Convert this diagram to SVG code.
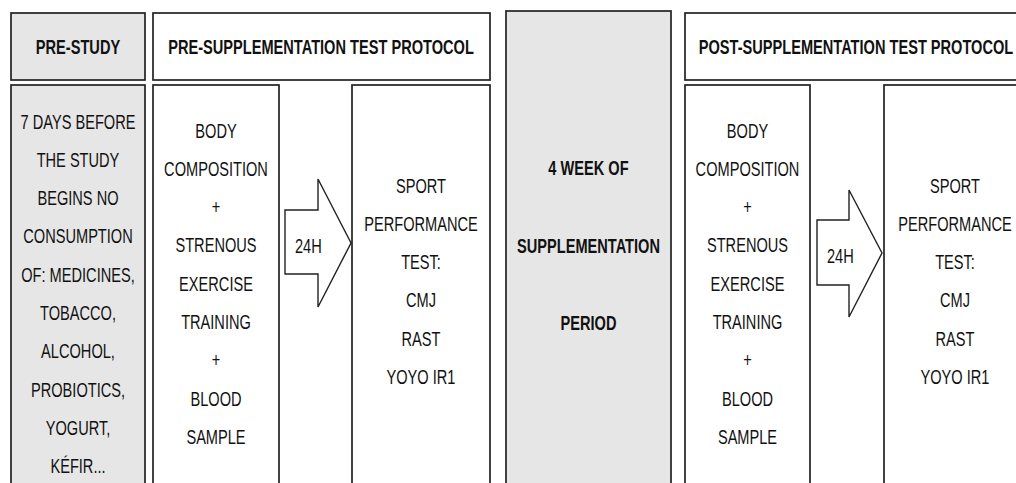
<svg xmlns="http://www.w3.org/2000/svg" width="1016" height="483" viewBox="0 0 1016 483">
<style>
.box{fill:#fff;stroke:#222;stroke-width:1.7}
.grey{fill:#e6e6e6}
.t{font-family:"Liberation Sans",Arial,sans-serif;font-size:20px;fill:#111;text-anchor:middle}
.b{font-weight:bold}
.l{text-anchor:start}
.arrow{fill:#fff;stroke:#222;stroke-width:1.4;stroke-linejoin:miter}
</style>
<rect width="1016" height="483" fill="#fff"/>
<g id="pre-study-header">
<rect class="box grey" x="11" y="13" width="134" height="67"/>
<text class="t b" transform="translate(78,54) scale(0.73,1)">PRE-STUDY</text>
</g>
<g id="pre-supp-header">
<rect class="box" x="153" y="13" width="337" height="67"/>
<text class="t b" transform="translate(321,54) scale(0.73,1)">PRE-SUPPLEMENTATION TEST PROTOCOL</text>
</g>
<g id="pre-study">
<rect class="box grey" x="11" y="85" width="134" height="410"/>
<text class="t" transform="translate(78,128.5) scale(0.73,1)">7 DAYS BEFORE</text>
<text class="t" transform="translate(78,166.8) scale(0.73,1)">THE STUDY</text>
<text class="t" transform="translate(78,205.1) scale(0.73,1)">BEGINS NO</text>
<text class="t" transform="translate(78,243.4) scale(0.73,1)">CONSUMPTION</text>
<text class="t" transform="translate(78,281.7) scale(0.73,1)">OF: MEDICINES,</text>
<text class="t" transform="translate(78,320) scale(0.73,1)">TOBACCO,</text>
<text class="t" transform="translate(78,358.3) scale(0.73,1)">ALCOHOL,</text>
<text class="t" transform="translate(78,396.6) scale(0.73,1)">PROBIOTICS,</text>
<text class="t" transform="translate(78,434.9) scale(0.73,1)">YOGURT,</text>
<text class="t" transform="translate(78,473.2) scale(0.73,1)">KÉFIR...</text>
</g>
<g id="pre-body">
<rect class="box" x="153" y="85" width="126" height="410"/>
<text class="t" transform="translate(216,137.5) scale(0.73,1)">BODY</text>
<text class="t" transform="translate(216,175.8) scale(0.73,1)">COMPOSITION</text>
<text class="t" transform="translate(216,214.1) scale(0.73,1)">+</text>
<text class="t" transform="translate(216,252.4) scale(0.73,1)">STRENOUS</text>
<text class="t" transform="translate(216,290.7) scale(0.73,1)">EXERCISE</text>
<text class="t" transform="translate(216,329) scale(0.73,1)">TRAINING</text>
<text class="t" transform="translate(216,367.3) scale(0.73,1)">+</text>
<text class="t" transform="translate(216,405.6) scale(0.73,1)">BLOOD</text>
<text class="t" transform="translate(216,443.9) scale(0.73,1)">SAMPLE</text>
</g>
<g id="pre-sport">
<rect class="box" x="352" y="85" width="138" height="410"/>
<text class="t" transform="translate(421,192.5) scale(0.73,1)">SPORT</text>
<text class="t" transform="translate(421,230.8) scale(0.73,1)">PERFORMANCE</text>
<text class="t" transform="translate(421,269.1) scale(0.73,1)">TEST:</text>
<text class="t" transform="translate(421,307.4) scale(0.73,1)">CMJ</text>
<text class="t" transform="translate(421,345.7) scale(0.73,1)">RAST</text>
<text class="t" transform="translate(421,384) scale(0.73,1)">YOYO IR1</text>
</g>
<g id="supplementation">
<rect class="box grey" x="506" y="11" width="165" height="484"/>
<text class="t b" transform="translate(588.5,174.5) scale(0.73,1)">4 WEEK OF</text>
<text class="t b" transform="translate(588.5,252.5) scale(0.73,1)">SUPPLEMENTATION</text>
<text class="t b" transform="translate(588.5,329.5) scale(0.73,1)">PERIOD</text>
</g>
<g id="post-supp-header">
<rect class="box" x="685" y="13" width="345" height="67"/>
<text class="t b" transform="translate(856,54) scale(0.73,1)">POST-SUPPLEMENTATION TEST PROTOCOL</text>
</g>
<g id="post-body">
<rect class="box" x="685" y="85" width="125" height="410"/>
<text class="t" transform="translate(747.5,137.5) scale(0.73,1)">BODY</text>
<text class="t" transform="translate(747.5,175.8) scale(0.73,1)">COMPOSITION</text>
<text class="t" transform="translate(747.5,214.1) scale(0.73,1)">+</text>
<text class="t" transform="translate(747.5,252.4) scale(0.73,1)">STRENOUS</text>
<text class="t" transform="translate(747.5,290.7) scale(0.73,1)">EXERCISE</text>
<text class="t" transform="translate(747.5,329) scale(0.73,1)">TRAINING</text>
<text class="t" transform="translate(747.5,367.3) scale(0.73,1)">+</text>
<text class="t" transform="translate(747.5,405.6) scale(0.73,1)">BLOOD</text>
<text class="t" transform="translate(747.5,443.9) scale(0.73,1)">SAMPLE</text>
</g>
<g id="post-sport">
<rect class="box" x="884" y="85" width="142" height="410"/>
<text class="t" transform="translate(955,192.5) scale(0.73,1)">SPORT</text>
<text class="t" transform="translate(955,230.8) scale(0.73,1)">PERFORMANCE</text>
<text class="t" transform="translate(955,269.1) scale(0.73,1)">TEST:</text>
<text class="t" transform="translate(955,307.4) scale(0.73,1)">CMJ</text>
<text class="t" transform="translate(955,345.7) scale(0.73,1)">RAST</text>
<text class="t" transform="translate(955,384) scale(0.73,1)">YOYO IR1</text>
</g>
<g id="connectors">
<g id="arrow-pre">
<polygon class="arrow" points="285,210 318,210 318,179 351,243 318,307 318,274 285,274"/>
<text class="t l" transform="translate(295,253) scale(0.73,1)">24H</text>
</g>
<g id="arrow-post">
<polygon class="arrow" points="817,220 849,220 849,190 882,253 849,317 849,285 817,285"/>
<text class="t l" transform="translate(827,263) scale(0.73,1)">24H</text>
</g>
</g>
</svg>
